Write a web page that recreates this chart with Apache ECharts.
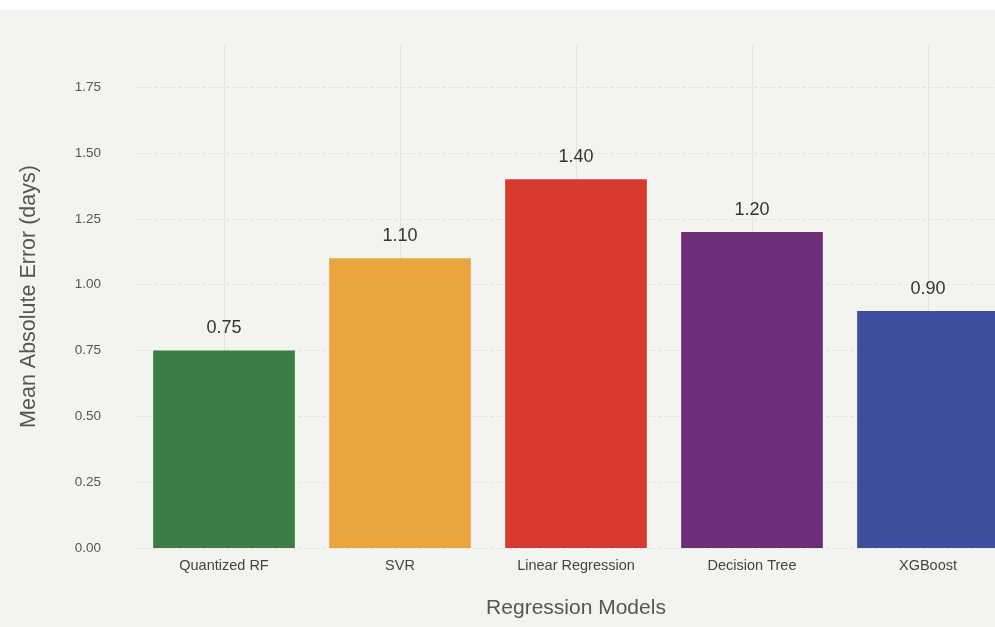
<!DOCTYPE html>
<html>
<head>
<meta charset="utf-8">
<script src="https://cdn.jsdelivr.net/npm/echarts@6/dist/echarts.min.js"></script>
<style>
  html, body { margin: 0; padding: 0; background: #f3f3ef; overflow: hidden; }
  /* the plot runs a little past the right edge of the window */
  #chart { width: 1016px; height: 627px; }
</style>
</head>
<body>
<div id="chart"></div>
<script>
// Model names along the x axis
const models = ['Quantized RF', 'SVR', 'Linear Regression', 'Decision Tree', 'XGBoost'];
// Mean absolute error per model, in days
const maeDays = [0.75, 1.10, 1.40, 1.20, 0.90];
// One fill colour per bar
const barColors = ['#3b7d45', '#eaa53e', '#d93a30', '#6e2d78', '#3d4f9c'];

const chart = echarts.init(document.getElementById('chart'), null, { renderer: 'canvas' });

const fontFamily = '"Liberation Sans", Arial, Helvetica, sans-serif';
const gridColor = '#e4e4e0';

chart.setOption({
  backgroundColor: '#f3f3ef',
  animation: false,
  graphic: [{
    type: 'rect',
    left: 0, top: 0,
    shape: { width: 1016, height: 10 },
    style: { fill: '#ffffff' },
    z: -10
  }],
  grid: { left: 136, right: 0, top: 45, bottom: 79, containLabel: false },
  xAxis: {
    type: 'category',
    data: models,
    name: 'Regression Models',
    nameLocation: 'middle',
    nameGap: 50,
    nameTextStyle: { fontFamily, fontSize: 21, color: '#555' },
    axisLine: { show: false },
    axisTick: { show: false },
    axisLabel: { fontFamily, fontSize: 14.5, color: '#444', margin: 10 },
    splitLine: { show: false }
  },
  yAxis: {
    type: 'value',
    min: 0,
    max: 1.91,
    interval: 0.25,
    name: 'Mean Absolute Error (days)',
    nameLocation: 'middle',
    nameGap: 96,
    nameTextStyle: { fontFamily, fontSize: 21.5, color: '#555' },
    axisLine: { show: false },
    axisTick: { show: false },
    axisLabel: {
      fontFamily, fontSize: 13.5, color: '#555', margin: 35,
      showMaxLabel: false,
      formatter: v => v.toFixed(2)
    },
    splitLine: {
      show: true,
      lineStyle: {
        type: 'dashed',
        width: 1,
        color: [gridColor, gridColor, gridColor, gridColor, gridColor, gridColor, gridColor, gridColor, 'rgba(0,0,0,0)']
      }
    }
  },
  series: [
    {
      // vertical guides through each category centre, drawn behind the bars
      type: 'line',
      data: [],
      z: 0,
      silent: true,
      markLine: {
        z: 0,
        symbol: 'none',
        silent: true,
        label: { show: false },
        lineStyle: { color: gridColor, type: 'solid', width: 1 },
        data: models.map(m => ({ xAxis: m }))
      }
    },
    {
      type: 'bar',
      z: 3,
      barWidth: '80.5%',
      data: maeDays.map((v, i) => ({ value: v, itemStyle: { color: barColors[i] } })),
      label: {
        show: true,
        position: 'top',
        distance: 13,
        fontFamily,
        fontSize: 18,
        color: '#333',
        formatter: p => p.value.toFixed(2)
      }
    }
  ]
});
</script>
</body>
</html>
